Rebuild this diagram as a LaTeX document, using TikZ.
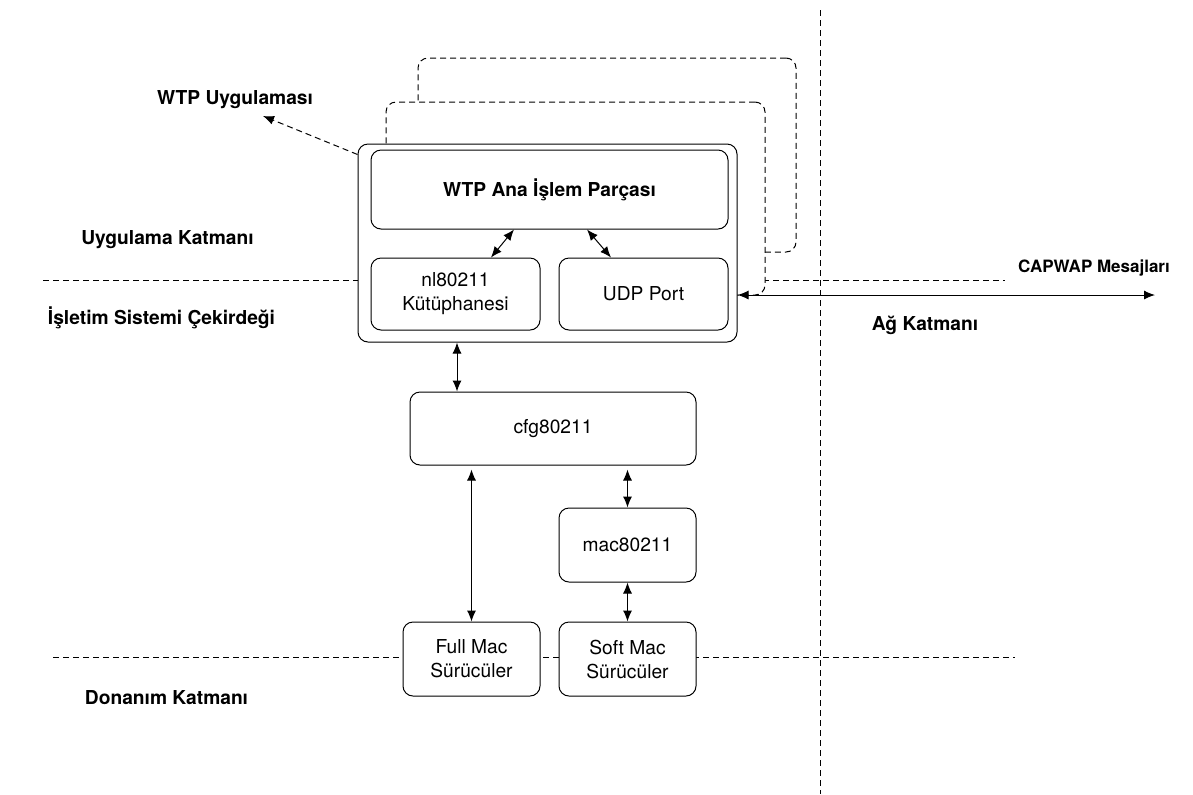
\documentclass[tikz,border=0pt]{standalone}
\usepackage{fontspec}
\setmainfont{TeX Gyre Heros}
\usepackage{tikz}
\usetikzlibrary{shapes, arrows.meta, positioning}
\tikzstyle{every node} = [font=\fontsize{9.6}{12}\selectfont]
\tikzstyle{box}      = [draw, rectangle, rounded corners=5pt, fill=white, line width=0.5pt, align=center]
\tikzstyle{ghost}    = [box, dash pattern=on 3pt off 2pt]
\tikzstyle{layer}    = [font=\bfseries\fontsize{9.6}{12}\selectfont]
\tikzstyle{divider}  = [draw, line width=0.5pt, dash pattern=on 3pt off 2pt]
\tikzstyle{biarrow}  = [draw, line width=0.5pt, {Latex[length=5.5pt, width=4.5pt]}-{Latex[length=5.5pt, width=4.5pt]}]
\tikzstyle{dasharrow} = [draw, line width=0.5pt, dash pattern=on 3pt off 2pt, -{Latex[length=5.5pt, width=4.5pt]}]

\begin{document}
\begin{tikzpicture}[x=0.5pt, y=-0.5pt]
\useasboundingbox (0,0) rectangle (1193,794);

% layers
\path [divider] (43,280) -- (1005,280);
\path [divider] (53,657) -- (1015,657);
\path [divider] (820,10) -- (820,794);

% other WTP copies
\node [ghost, minimum width=189pt, minimum height=97pt] (copy2) at (607,155)   {};
\node [ghost, minimum width=189.5pt, minimum height=96.5pt] (copy1) at (575.5,198.5) {};

% nodes
\node [box, minimum width=189.5pt, minimum height=99pt]   (wtp)  at (547.5,243) {};
\node [box, minimum width=178.5pt, minimum height=39.5pt] (main) at (549.5,189.5) {\bfseries WTP Ana İşlem Parçası};
\node [box, minimum width=84.5pt, minimum height=36pt]    (nl)   at (455.5,294) {nl80211\\Kütüphanesi};
\node [box, minimum width=84.5pt, minimum height=36pt]    (udp)  at (643.5,294) {UDP Port};
\node [box, minimum width=143pt, minimum height=36.5pt]   (cfg)  at (553,428.5) {cfg80211};
\node [box, minimum width=68.5pt, minimum height=37pt]    (mac)  at (627.5,545) {mac80211};
\node [box, minimum width=68.5pt, minimum height=37pt]    (full) at (471.5,659) {Full Mac\\Sürücüler};
\node [box, minimum width=68.5pt, minimum height=37pt]    (soft) at (627.5,659) {Soft Mac\\Sürücüler};

% labels
\node [layer] (app)     at (235,100)   {WTP Uygulaması};
\node [layer] (userl)   at (167.5,240) {Uygulama Katmanı};
\node [layer] (kernel)  at (161.5,318) {İşletim Sistemi Çekirdeği};
\node [layer] (hwl)     at (166.5,698) {Donanım Katmanı};
\node [layer] (netl)    at (925,325)   {Ağ Katmanı};
\node [layer, font=\bfseries\fontsize{8.5}{10}\selectfont] (capwap) at (1094,268) {CAPWAP Mesajları};
\coordinate (apptip) at (263,116);
\coordinate (netend) at (1155,295);

% edges
\path [dasharrow] ([yshift=-5.5pt]wtp.north west) -- (apptip);
\path [biarrow] ([xshift=-17.75pt]main.south) -- ([xshift=17.75pt]nl.north);
\path [biarrow] ([xshift=18.75pt]main.south)  -- ([xshift=-16.25pt]udp.north);
\path [biarrow] ([yshift=-26pt]wtp.east)      -- (netend);
\path [biarrow] ([xshift=-45.25pt]wtp.south)  -- ([xshift=-45.25pt]wtp.south |- cfg.north);
\path [biarrow] (full.north)                  -- ([yshift=-2pt]full.north |- cfg.south);
\path [biarrow] (mac.north)                   -- ([yshift=-2pt]mac.north |- cfg.south);
\path [biarrow] (mac.south)                   -- (soft.north);

\end{tikzpicture}
\end{document}
